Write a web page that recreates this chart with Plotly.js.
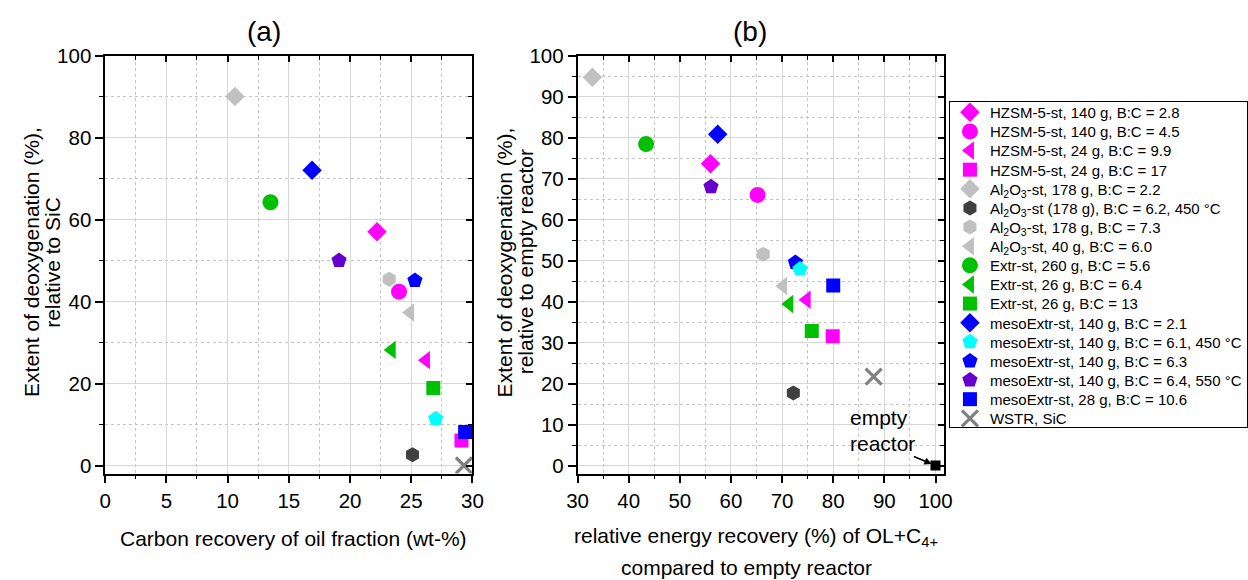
<!DOCTYPE html>
<html>
<head>
<meta charset="utf-8">
<script src="https://cdn.plot.ly/plotly-3.0.1.min.js"></script>
<style>html,body{margin:0;padding:0;background:#fff;}#chart{width:1248px;height:580px;}</style>
</head>
<body>
<div id="chart"></div>
<script>
// ---------- data ----------
const seriesNames = [
  'HZSM-5-st, 140 g, B:C = 2.8',
  'HZSM-5-st, 140 g, B:C = 4.5',
  'HZSM-5-st, 24 g, B:C = 9.9',
  'HZSM-5-st, 24 g, B:C = 17',
  'Al<sub>2</sub>O<sub>3</sub>-st, 178 g, B:C = 2.2',
  'Al<sub>2</sub>O<sub>3</sub>-st (178 g), B:C = 6.2, 450 °C',
  'Al<sub>2</sub>O<sub>3</sub>-st, 178 g, B:C = 7.3',
  'Al<sub>2</sub>O<sub>3</sub>-st, 40 g, B:C = 6.0',
  'Extr-st, 260 g, B:C = 5.6',
  'Extr-st, 26 g, B:C = 6.4',
  'Extr-st, 26 g, B:C = 13',
  'mesoExtr-st, 140 g, B:C = 2.1',
  'mesoExtr-st, 140 g, B:C = 6.1, 450 °C',
  'mesoExtr-st, 140 g, B:C = 6.3',
  'mesoExtr-st, 140 g, B:C = 6.4, 550 °C',
  'mesoExtr-st, 28 g, B:C = 10.6',
  'WSTR, SiC'
];
// panel (a)
const carbonRecovery = [22.2, 24.0, 26.2, 29.1, 10.6, 25.1, 23.2, 24.9, 13.5, 23.4, 26.8, 16.9, 27.0, 25.3, 19.1, 29.4, 29.3];
const deoxRelSiC     = [57.0, 42.4, 25.7, 6.1, 90.0, 2.6, 45.4, 37.3, 64.2, 28.2, 18.9, 72.0, 11.4, 45.1, 50.0, 8.2, 0.0];
// panel (b)
const energyRecovery = [56.0, 65.2, 74.8, 79.9, 32.9, 72.2, 66.3, 70.2, 43.4, 71.4, 75.8, 57.4, 73.5, 72.6, 56.1, 80.0, 87.9];
const deoxRelEmpty   = [73.6, 66.0, 40.4, 31.5, 94.7, 17.7, 51.5, 43.8, 78.4, 39.4, 32.8, 80.8, 47.9, 49.5, 68.0, 43.9, 21.7];
const emptyReactorX = [100];
const emptyReactorY = [0];

// ---------- styles ----------
const MAG = '#ff00ff', LG = '#c0c0c0', DG = '#404040', GR = '#00c000', BL = '#0000ff', CY = '#00ffff', PU = '#6600cc', XG = '#808080';
const styles = [
  {c: MAG, s: 'diamond', z: 15},
  {c: MAG, s: 'circle', z: 16},
  {c: MAG, s: 'triangle-left', z: 16},
  {c: MAG, s: 'square', z: 14},
  {c: LG, s: 'diamond', z: 15},
  {c: DG, s: 'hexagon', z: 15},
  {c: LG, s: 'hexagon', z: 15},
  {c: LG, s: 'triangle-left', z: 16},
  {c: GR, s: 'circle', z: 16},
  {c: GR, s: 'triangle-left', z: 16},
  {c: GR, s: 'square', z: 14},
  {c: BL, s: 'diamond', z: 15},
  {c: CY, s: 'pentagon', z: 16},
  {c: BL, s: 'pentagon', z: 16},
  {c: PU, s: 'pentagon', z: 16},
  {c: BL, s: 'square', z: 14},
  {c: XG, s: 'x-thin', z: 16}
];
const drawOrder = [0, 2, 3, 4, 5, 6, 1, 7, 8, 9, 10, 11, 13, 12, 14, 15, 16];

function mk(i) {
  const st = styles[i];
  const m = {color: st.c, symbol: st.s, size: st.z, line: {width: 0}};
  if (st.s === 'x-thin') m.line = {width: 3.2, color: st.c};
  return m;
}

const traces = [];
drawOrder.forEach(i => {
  traces.push({
    type: 'scatter', mode: 'markers', name: seriesNames[i],
    x: [carbonRecovery[i]], y: [deoxRelSiC[i]], xaxis: 'x', yaxis: 'y',
    marker: mk(i), legendrank: i + 1, hoverinfo: 'x+y+name'
  });
});
drawOrder.forEach(i => {
  traces.push({
    type: 'scatter', mode: 'markers', name: seriesNames[i], showlegend: false,
    x: [energyRecovery[i]], y: [deoxRelEmpty[i]], xaxis: 'x2', yaxis: 'y2',
    marker: mk(i), hoverinfo: 'x+y+name'
  });
});
traces.push({
  type: 'scatter', mode: 'markers', name: 'empty reactor', showlegend: false,
  x: emptyReactorX, y: emptyReactorY, xaxis: 'x2', yaxis: 'y2',
  marker: {color: '#000', symbol: 'square', size: 10}
});
// dummy traces so mirrored tick axes are drawn
[['x3','y'],['x','y3'],['x4','y2'],['x2','y4']].forEach(p => traces.push({
  type: 'scatter', mode: 'markers', x: [], y: [], xaxis: p[0], yaxis: p[1], showlegend: false, hoverinfo: 'skip'
}));

// ---------- layout ----------
const W = 1248, H = 580;
const px = v => v / W, py = v => 1 - v / H;
const FONT = 'Arial, "Liberation Sans", sans-serif';
const yDom = [py(473.5), py(55.5)];
const aDom = [px(105.5), px(474)];
const bDom = [px(579.4), px(947.5)];
const yRange = [-1.95, 100];
const TICKFS = 20.5, TITLEFS = 21;

function mainAxis(o) {
  return Object.assign({
    showline: true, linecolor: '#000', linewidth: 1.5, mirror: true,
    ticks: 'outside', ticklen: 8, tickwidth: 1.5, tickcolor: '#000',
    showgrid: true, gridcolor: '#d6d6d6', gridwidth: 1.3, zeroline: false,
    tickfont: {family: FONT, size: TICKFS, color: '#000'}, fixedrange: true
  }, o);
}
function mirrorAxis(o) {
  return Object.assign({
    showline: false, showgrid: false, zeroline: false, showticklabels: false,
    ticks: 'inside', ticklen: 6, tickwidth: 1.5, tickcolor: '#000', fixedrange: true
  }, o);
}
const minorX = (d) => ({dtick: d, ticks: 'outside', ticklen: 4, tickwidth: 1.2, tickcolor: '#000', showgrid: true, gridcolor: '#c4c4c4', griddash: 'dot', gridwidth: 1});
const minorMir = (d) => ({dtick: d, ticks: 'inside', ticklen: 4, tickwidth: 1.2, tickcolor: '#000', showgrid: false});

const ann = [];
const T = (x, y, text, size, extra) => ann.push(Object.assign({
  xref: 'paper', yref: 'paper', x: px(x), y: py(y), text: text, showarrow: false,
  xanchor: 'center', yanchor: 'middle', font: {family: FONT, size: size, color: '#000'}
}, extra || {}));
T(265, 31, '(a)', 28);
T(752, 31, '(b)', 28);
T(294, 538, 'Carbon recovery of oil fraction (wt-%)', TITLEFS);
T(758, 537, 'relative energy recovery (%) of OL+C<sub>4+</sub>', TITLEFS);
T(749, 567, 'compared to empty reactor', TITLEFS);
T(31, 262, 'Extent of deoxygenation (%),', TITLEFS, {textangle: -90});
T(52, 262, 'relative to SiC', TITLEFS, {textangle: -90});
T(506, 262, 'Extent of deoxygenation (%),', TITLEFS, {textangle: -90});
T(527, 262, 'relative to empty reactor', TITLEFS, {textangle: -90});
ann.push({
  xref: 'x2', yref: 'y2', x: 88.9, y: 11.8, text: 'empty', showarrow: false,
  font: {family: FONT, size: TITLEFS, color: '#000'}
});
ann.push({
  xref: 'x2', yref: 'y2', x: 100, y: 0, text: 'reactor', showarrow: true,
  ax: -53, ay: -22, arrowhead: 2, arrowsize: 1, arrowwidth: 1.5, arrowcolor: '#000', standoff: 4,
  font: {family: FONT, size: TITLEFS, color: '#000'}
});

const LEG_TOP = 101, LEG_FIRST = 11.3, LEG_STEP = 19.125, LEG_BOTTOM_PAD = 8.7;
const layout = {
  width: W, height: H, margin: {l: 0, r: 0, t: 0, b: 0},
  paper_bgcolor: '#fff', plot_bgcolor: '#fff',
  font: {family: FONT, color: '#000'},
  showlegend: true,
  legend: {
    x: px(952), y: py(LEG_TOP), xanchor: 'left', yanchor: 'top',
    bordercolor: '#000', borderwidth: 1, bgcolor: '#fff',
    font: {family: FONT, size: 15, color: '#000'}, tracegroupgap: 0,
    traceorder: 'normal', itemclick: false, itemdoubleclick: false
  },
  xaxis: mainAxis({domain: aDom, range: [0, 30], anchor: 'y', dtick: 5, tick0: 0, minor: minorX(2.5)}),
  yaxis: mainAxis({domain: yDom, range: yRange, anchor: 'x', dtick: 20, tick0: 0, minor: minorX(10)}),
  xaxis2: mainAxis({domain: bDom, range: [30, 101.75], anchor: 'y2', dtick: 10, tick0: 0, minor: minorX(5)}),
  yaxis2: mainAxis({domain: yDom, range: yRange, anchor: 'x2', dtick: 10, tick0: 0, minor: minorX(5)}),
  xaxis3: mirrorAxis({overlaying: 'x', side: 'top', anchor: 'y', range: [0, 30], dtick: 5, tick0: 0, minor: minorMir(2.5)}),
  yaxis3: mirrorAxis({overlaying: 'y', side: 'right', anchor: 'x', range: yRange, dtick: 20, tick0: 0, minor: minorMir(10)}),
  xaxis4: mirrorAxis({overlaying: 'x2', side: 'top', anchor: 'y2', range: [30, 101.75], dtick: 10, tick0: 0, minor: minorMir(5)}),
  yaxis4: mirrorAxis({overlaying: 'y2', side: 'right', anchor: 'x2', range: yRange, dtick: 10, tick0: 0, minor: minorMir(5)}),
  annotations: ann
};

// tighten legend row spacing to match the reference (Origin-style compact legend)
function compactLegend() {
  const gd = document.getElementById('chart');
  const leg = gd.querySelector('g.legend');
  if (!leg) return;
  const items = leg.querySelectorAll('g.traces');
  items.forEach((el, i) => {
    const tr = el.getAttribute('transform') || '';
    const m = tr.match(/translate\(\s*([-\d.e]+)[ ,]+([-\d.e]+)\s*\)/);
    const x0 = m ? parseFloat(m[1]) : 1;
    el.setAttribute('transform', 'translate(' + x0 + ',' + (LEG_FIRST + i * LEG_STEP) + ')');
  });
  const h = LEG_FIRST + (items.length - 1) * LEG_STEP + LEG_BOTTOM_PAD;
  const bg = leg.querySelector('rect.bg');
  if (bg) bg.setAttribute('height', h);
}

Plotly.newPlot('chart', traces, layout, {displayModeBar: false}).then(compactLegend);
</script>
</body>
</html>
